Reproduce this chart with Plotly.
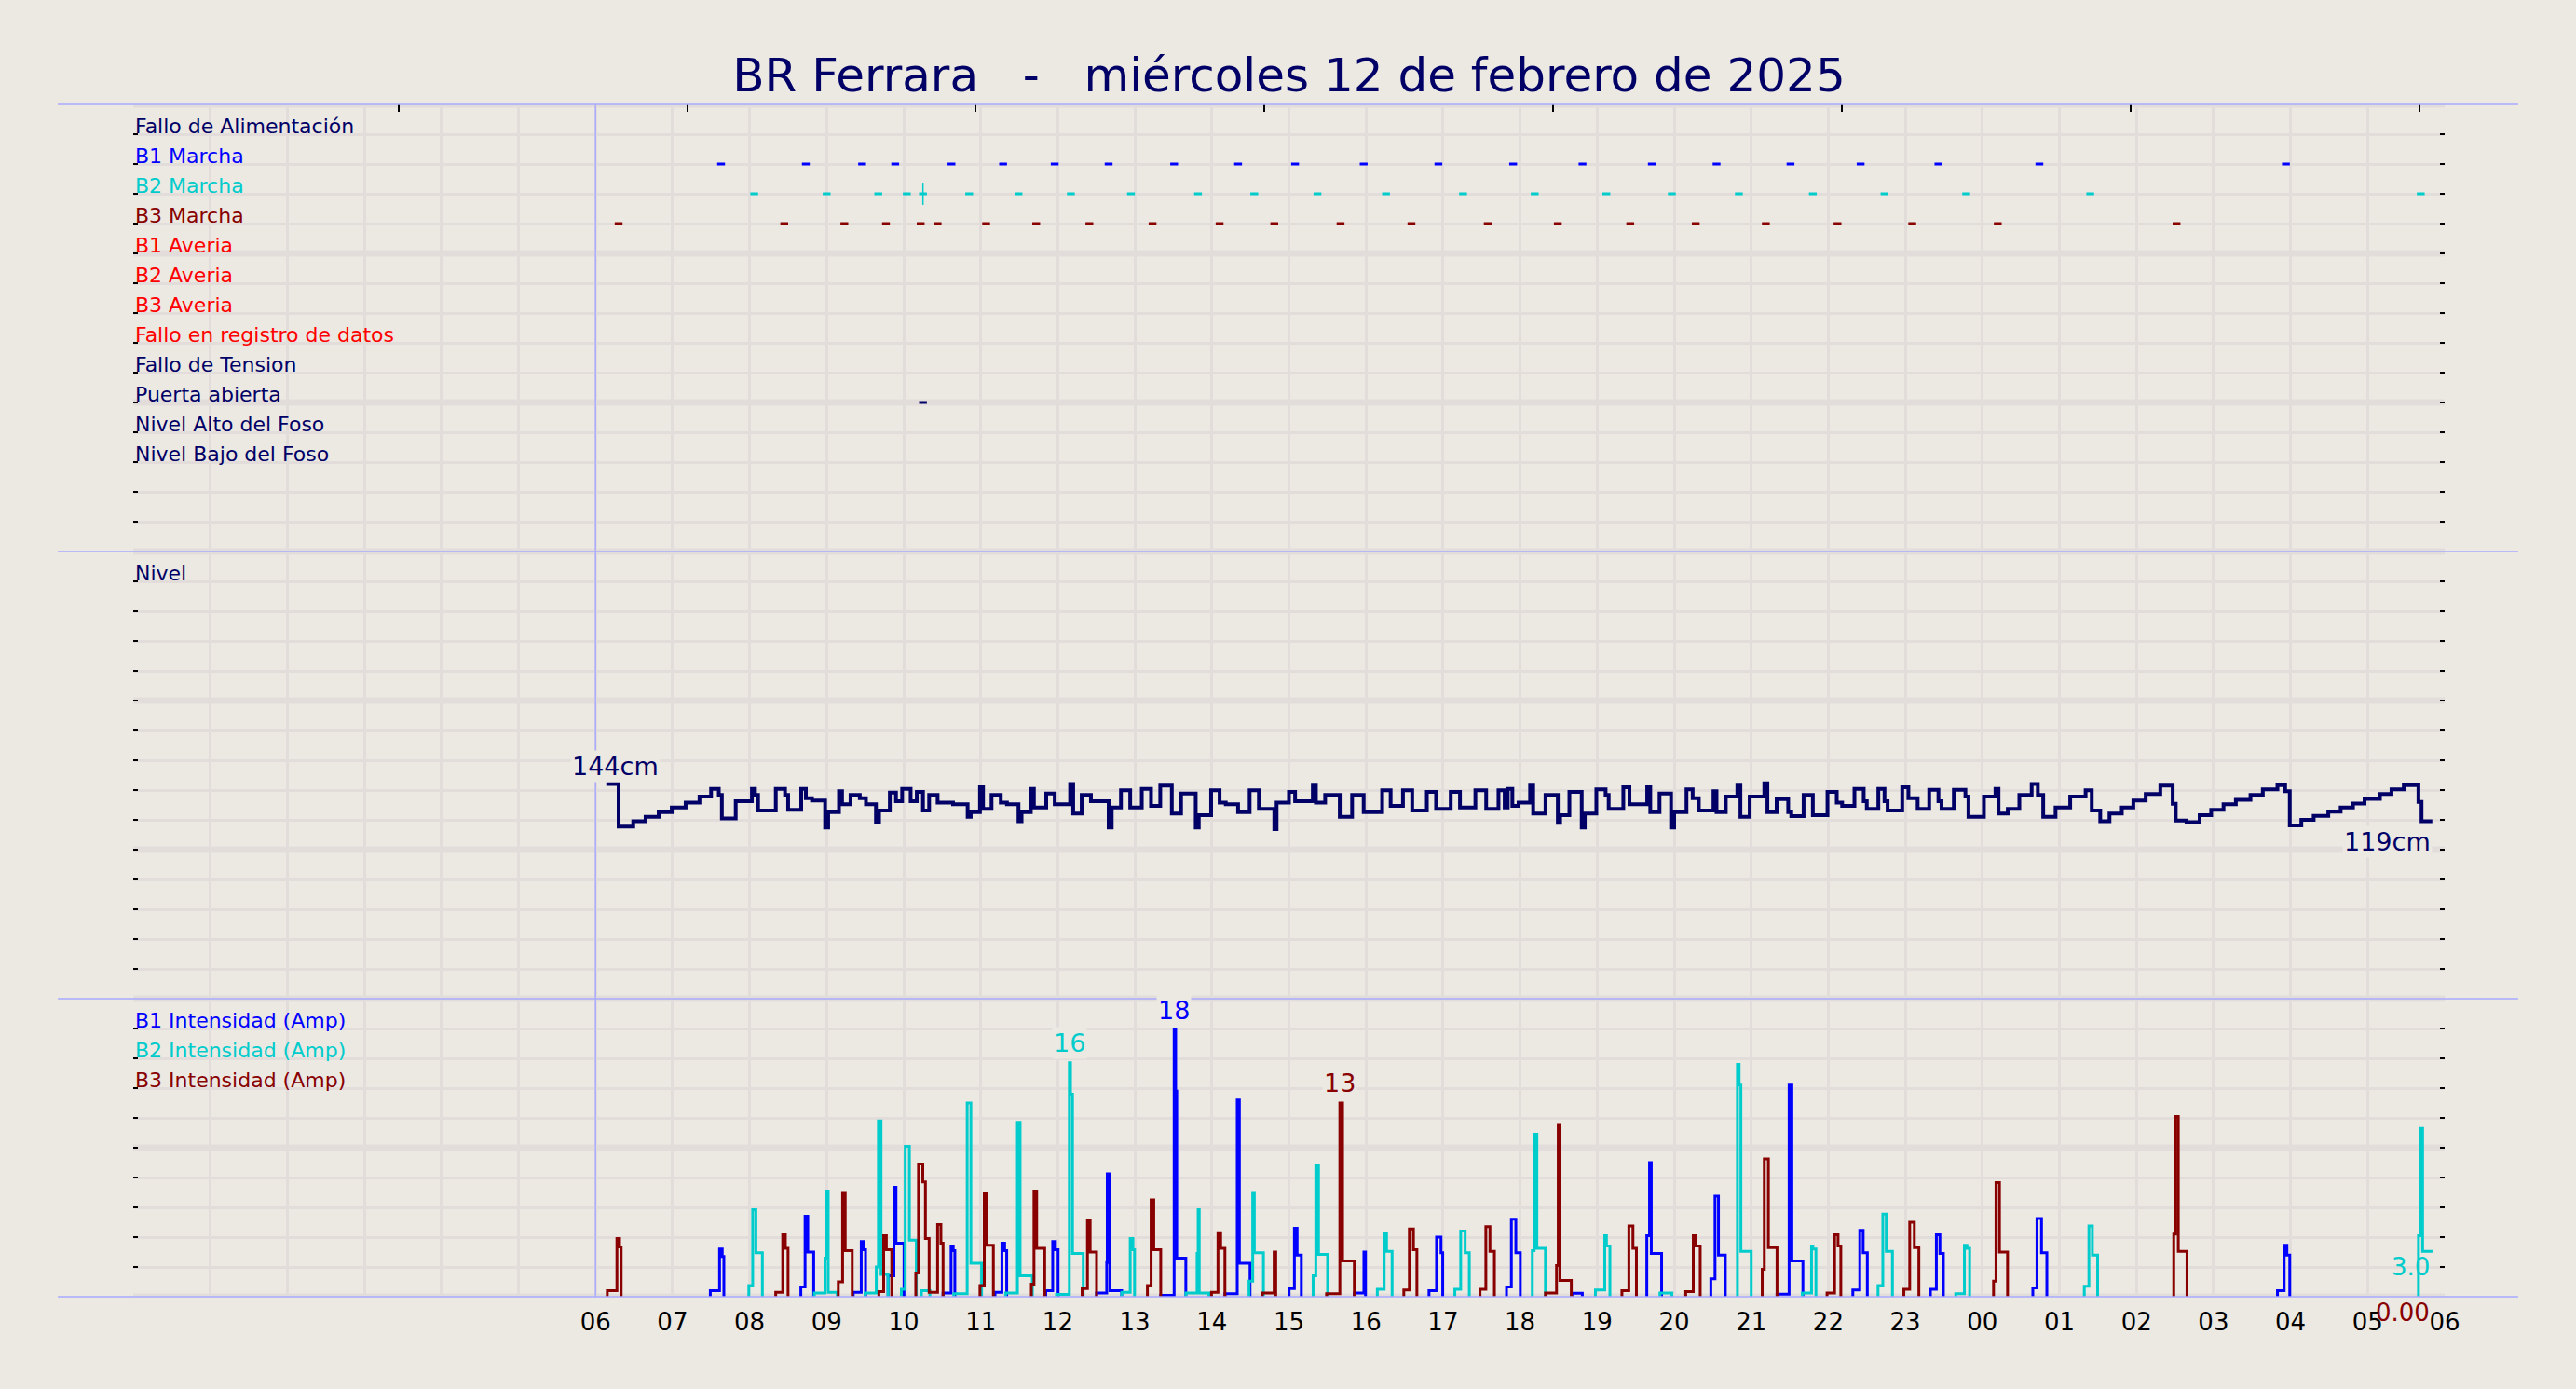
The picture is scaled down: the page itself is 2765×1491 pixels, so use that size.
import pandas as pd
import plotly.graph_objects as go

BASE = pd.Timestamp("2025-02-12 00:00:00")
TITLE = "BR Ferrara\u00a0\u00a0\u00a0-\u00a0\u00a0\u00a0miércoles 12 de febrero de 2025"

NAVY = "#000066"
BLUE = "#0000ff"
CYAN = "#00cccc"
DRED = "#880000"
RED = "#ff0000"
BG = "#ece8e2"
GRID = "#e2dddb"
FRAME = "#aaaaff"
FONT = "DejaVu Sans"

# x axis: hours since 2025-02-12 00:00
HOUR_TICKS = list(range(0, 31))
HOUR_LABELS = [""] * 6 + ["06", "07", "08", "09", "10", "11", "12", "13", "14", "15", "16", "17",
                          "18", "19", "20", "21", "22", "23", "00", "01", "02", "03", "04", "05", "06"]
TOP_TICKS_H = [3.443, 7.190, 10.937, 14.684, 18.431, 22.178, 25.925, 29.672]

# status panel rows
STATUS_LABELS = ["Fallo de Alimentación", "B1 Marcha", "B2 Marcha", "B3 Marcha", "B1 Averia",
                 "B2 Averia", "B3 Averia", "Fallo en registro de datos", "Fallo de Tension",
                 "Puerta abierta", "Nivel Alto del Foso", "Nivel Bajo del Foso"]
STATUS_ROWS = [14, 13, 12, 11, 10, 9, 8, 7, 6, 5, 4, 3]
STATUS_COLORS = [NAVY, BLUE, CYAN, DRED, RED, RED, RED, RED, NAVY, NAVY, NAVY, NAVY]

B1_MARCHA_H = [7.63, 8.73, 9.46, 9.89, 10.62, 11.29, 11.96, 12.66, 13.51, 14.34, 15.08, 15.97,
               16.94, 17.91, 18.81, 19.71, 20.55, 21.51, 22.42, 23.43, 24.74, 27.94]
B2_MARCHA_H = [8.06, 9.00, 9.67, 10.04, 10.25, 10.85, 11.49, 12.17, 12.95, 13.82, 14.55, 15.37,
               16.26, 17.26, 18.19, 19.12, 19.97, 20.84, 21.80, 22.73, 23.79, 25.40, 29.69]
B2_MARCHA_LARGA_H = [10.25]
B3_MARCHA_H = [6.30, 8.45, 9.23, 9.77, 10.22, 10.44, 11.07, 11.72, 12.41, 13.23, 14.10, 14.81,
               15.67, 16.59, 17.58, 18.49, 19.43, 20.28, 21.19, 22.12, 23.09, 24.20, 26.52]
PUERTA_H = [10.25]

# level (hour, cm)
LEVEL_READINGS = [
    (6.14, 144), (6.30, 115.4), (6.49, 119.0), (6.65, 122.1), (6.82, 125.2), (6.99, 128.3),
    (7.17, 131.5), (7.35, 135.6), (7.50, 140.8), (7.60, 136.7), (7.64, 121.0), (7.82, 132.5),
    (8.03, 140.8), (8.07, 136.7), (8.11, 126.3), (8.34, 140.8), (8.46, 136.7), (8.50, 126.7),
    (8.67, 140.8), (8.73, 134.6), (8.81, 133.0), (8.98, 114.8), (9.02, 125.2), (9.16, 139.2),
    (9.20, 130.4), (9.31, 136.7), (9.43, 134.6), (9.51, 130.4), (9.64, 118.3), (9.68, 126.3),
    (9.82, 138.3), (9.90, 132.5), (9.98, 140.8), (10.09, 132.5), (10.17, 138.8), (10.25, 126.3),
    (10.33, 136.7), (10.44, 131.5), (10.64, 130.4), (10.83, 122.1), (10.87, 125.2), (10.99, 141.9),
    (11.03, 127.3), (11.14, 136.7), (11.26, 131.5), (11.34, 130.4), (11.49, 119.0), (11.53, 125.2),
    (11.65, 140.8), (11.69, 128.3), (11.85, 137.7), (11.96, 130.4), (12.16, 144.0), (12.20, 124.2),
    (12.31, 136.7), (12.43, 132.5), (12.66, 114.8), (12.70, 128.3), (12.82, 139.8), (12.94, 128.3),
    (13.09, 140.8), (13.21, 129.4), (13.33, 142.9), (13.48, 124.2), (13.60, 137.7), (13.79, 114.8),
    (13.83, 123.1), (13.99, 139.8), (14.10, 131.5), (14.18, 130.4), (14.34, 125.2), (14.49, 139.8),
    (14.61, 127.3), (14.81, 113.8), (14.84, 131.5), (15.00, 138.8), (15.08, 132.5), (15.31, 142.9),
    (15.35, 131.5), (15.47, 136.7), (15.66, 122.1), (15.82, 136.7), (15.97, 125.2), (16.21, 139.8),
    (16.32, 129.4), (16.48, 139.8), (16.60, 126.3), (16.79, 138.8), (16.91, 127.3), (17.10, 138.8),
    (17.22, 128.3), (17.42, 139.8), (17.56, 127.3), (17.72, 139.8), (17.80, 128.3), (17.84, 140.8),
    (17.90, 129.4), (17.98, 131.5), (18.13, 142.9), (18.17, 124.2),
    (18.33, 136.7), (18.49, 118.0), (18.52, 123.1), (18.64, 138.8), (18.80, 114.8), (18.84, 124.2),
    (18.99, 140.4), (19.11, 136.7), (19.15, 127.3), (19.34, 141.9), (19.42, 130.4), (19.65, 141.9),
    (19.69, 125.2), (19.81, 137.7), (19.96, 114.8), (20.00, 125.2), (20.16, 140.4), (20.24, 134.6),
    (20.32, 126.3), (20.51, 139.2), (20.55, 125.2), (20.67, 135.6), (20.82, 142.9), (20.86, 122.1),
    (20.98, 135.6), (21.17, 144.6), (21.21, 125.2), (21.33, 133.9), (21.48, 125.2), (21.52, 122.5),
    (21.68, 136.7), (21.80, 123.1), (21.99, 138.8), (22.11, 131.5), (22.18, 129.4), (22.34, 140.8),
    (22.46, 132.5), (22.50, 127.3), (22.65, 140.8), (22.73, 132.5), (22.77, 126.3), (22.96, 141.9),
    (23.04, 134.6), (23.16, 127.3), (23.31, 140.2), (23.43, 132.5), (23.47, 127.3), (23.63, 140.2),
    (23.78, 135.6), (23.82, 122.1), (24.02, 135.6), (24.17, 140.8), (24.21, 124.2), (24.33, 127.3),
    (24.48, 136.7), (24.64, 144.0), (24.72, 136.7), (24.79, 122.1), (24.95, 128.3), (25.14, 135.6),
    (25.34, 139.8), (25.42, 126.3), (25.53, 119.0), (25.65, 124.2), (25.81, 128.3), (25.96, 133.0),
    (26.12, 137.3), (26.31, 142.9), (26.47, 130.8), (26.51, 119.6), (26.65, 118.5), (26.82, 123.1),
    (26.97, 126.7), (27.13, 130.4), (27.29, 133.5), (27.48, 136.7), (27.64, 140.4), (27.83, 143.3),
    (27.93, 139.2), (27.99, 116.3), (28.14, 120.0), (28.30, 122.7), (28.49, 125.4), (28.65, 128.3),
    (28.81, 131.0), (28.96, 134.0), (29.16, 137.3), (29.31, 140.4), (29.47, 143.3), (29.66, 132.0),
    (29.70, 119.0), (29.84, 119.0),
]
LEVEL_H = [p[0] for p in LEVEL_READINGS]
LEVEL_CM = [p[1] for p in LEVEL_READINGS]

# pump currents: one list per run (hours, amps)
B1_H = [
    [7.49, 7.49, 7.61, 7.645, 7.666], [8.665, 8.665, 8.72, 8.755, 8.832],
    [9.345, 9.345, 9.449, 9.484, 9.505], [9.797, 9.797, 9.873, 9.90, 10.004],
    [10.511, 10.511, 10.615, 10.643, 10.664], [11.185, 11.185, 11.275, 11.31, 11.337],
    [11.844, 11.844, 11.934, 11.969, 12.004], [12.503, 12.503, 12.635, 12.642, 12.677, 12.829],
    [13.336, 13.336, 13.51, 13.53, 13.544, 13.662], [14.17, 14.17, 14.329, 14.357, 14.495],
    [15.002, 15.002, 15.071, 15.106, 15.161], [15.849, 15.849, 15.973, 15.994],
    [16.818, 16.818, 16.916, 16.974, 16.996], [17.824, 17.824, 17.887, 17.945, 18.003],
    [18.673, 18.673, 18.808], [19.645, 19.645, 19.68, 19.703, 19.837],
    [20.476, 20.476, 20.53, 20.575, 20.664], [21.335, 21.335, 21.492, 21.528, 21.671],
    [22.319, 22.319, 22.409, 22.453, 22.507], [23.326, 23.326, 23.403, 23.449, 23.494],
    [24.655, 24.655, 24.709, 24.768, 24.837], [27.830, 27.830, 27.917, 27.953, 27.99],
    [29.84],
]
B1_A = [
    [0, 0.4, 3.2, 2.7, 0], [0, 0.65, 5.4, 3.0, 0],
    [0, 0.3, 3.7, 3.15, 0], [0, 1.4, 7.35, 3.6, 0],
    [0, 0.25, 3.4, 3.1, 0], [0, 0.3, 3.6, 3.1, 0],
    [0, 0.4, 3.7, 3.15, 0], [0, 0.25, 2.3, 8.25, 0.4, 0],
    [0, 0.1, 17.9, 13.8, 2.6, 0], [0, 0.2, 13.2, 2.25, 0],
    [0, 0.55, 4.6, 2.8, 0], [0, 0.25, 3.0, 0],
    [0, 0.4, 4.0, 2.95, 0], [0, 0.65, 5.2, 2.95, 0],
    [0, 0.23, 0], [0, 4.1, 9.0, 2.9, 0],
    [0, 1.2, 6.75, 2.8, 0], [0, 0.17, 14.2, 2.4, 0],
    [0, 0.45, 4.45, 2.95, 0], [0, 0.5, 4.15, 2.9, 0],
    [0, 0.6, 5.25, 2.95, 0], [0, 0.4, 3.45, 2.8, 0],
    [0],
]
B2_H = [
    [7.99, 7.99, 8.04, 8.082, 8.166], [8.84, 8.84, 8.978, 8.999, 9.02, 9.137],
    [9.498, 9.498, 9.644, 9.672, 9.706, 9.797], [9.97, 9.97, 10.02, 10.074, 10.164],
    [10.23, 10.23, 10.34], [10.65, 10.65, 10.824, 10.872, 11.011],
    [11.323, 11.323, 11.476, 11.511, 11.67], [11.983, 11.983, 12.15, 12.165, 12.191, 12.33],
    [12.83, 12.83, 12.94, 12.975, 12.996], [13.662, 13.662, 13.808, 13.822, 13.836, 13.961],
    [14.482, 14.482, 14.53, 14.551, 14.669], [15.314, 15.314, 15.349, 15.384, 15.502],
    [16.147, 16.147, 16.236, 16.267, 16.339], [17.153, 17.153, 17.229, 17.287, 17.341],
    [18.159, 18.159, 18.182, 18.218, 18.329], [18.978, 18.978, 19.099, 19.121, 19.166],
    [19.815, 19.815, 19.971], [20.821, 20.821, 20.843, 20.866, 21.0],
    [21.662, 21.662, 21.783, 21.80, 21.84], [22.646, 22.646, 22.708, 22.753, 22.833],
    [23.654, 23.654, 23.767, 23.80, 23.835], [25.323, 25.323, 25.383, 25.428, 25.496],
    [29.66, 29.66, 29.682, 29.714, 29.842],
]
B2_A = [
    [0, 0.75, 5.85, 2.95, 0], [0, 0.25, 2.6, 7.1, 0.3, 0],
    [0, 0.25, 2.0, 11.8, 1.5, 0], [0, 0.5, 10.1, 3.8, 0],
    [0, 0.4, 0], [0, 0.2, 13.0, 2.25, 0],
    [0, 0.25, 11.7, 1.4, 0], [0, 0.15, 15.7, 13.6, 2.9, 0],
    [0, 0.3, 3.9, 3.15, 0], [0, 0.25, 2.9, 5.85, 0.25, 0],
    [0, 1.05, 7.0, 2.95, 0], [0, 1.4, 8.8, 2.85, 0],
    [0, 0.5, 4.25, 3.05, 0], [0, 0.5, 4.4, 2.95, 0],
    [0, 3.1, 10.9, 3.25, 0], [0, 0.45, 4.1, 3.4, 0],
    [0, 0.25, 0], [0, 15.6, 14.2, 3.05, 0],
    [0, 0.25, 3.4, 3.2, 0], [0, 0.75, 5.55, 3.05, 0],
    [0, 0.2, 3.45, 3.25, 0], [0, 0.7, 4.75, 2.8, 0],
    [0, 4.1, 11.3, 3.05, 3.05],
]
B3_H = [
    [6.153, 6.153, 6.278, 6.312, 6.333], [8.339, 8.339, 8.43, 8.464, 8.499],
    [9.151, 9.151, 9.207, 9.241, 9.332], [9.678, 9.678, 9.74, 9.775, 9.845],
    [10.157, 10.157, 10.192, 10.248, 10.282, 10.33, 10.44, 10.483, 10.511],
    [10.99, 10.99, 11.046, 11.08, 11.164], [11.657, 11.657, 11.691, 11.726, 11.83],
    [12.316, 12.316, 12.385, 12.42, 12.503], [13.163, 13.163, 13.211, 13.246, 13.336],
    [13.995, 13.995, 14.079, 14.114, 14.169], [14.655, 14.655, 14.808, 14.829],
    [15.488, 15.488, 15.661, 15.696, 15.849], [16.491, 16.491, 16.563, 16.616, 16.661],
    [17.48, 17.48, 17.556, 17.609, 17.667], [18.329, 18.329, 18.473, 18.495, 18.517, 18.665],
    [19.322, 19.322, 19.412, 19.465, 19.51], [20.15, 20.15, 20.248, 20.284, 20.338],
    [21.143, 21.143, 21.17, 21.223, 21.335], [21.984, 21.984, 22.082, 22.127, 22.163],
    [22.981, 22.981, 23.057, 23.117, 23.176], [24.145, 24.145, 24.177, 24.222, 24.327],
    [26.484, 26.484, 26.506, 26.543, 26.656],
    [29.84],
]
B3_A = [
    [0, 0.4, 3.9, 3.35, 0], [0, 0.3, 4.15, 3.25, 0],
    [0, 1.0, 7.0, 3.1, 0], [0, 0.35, 4.1, 3.15, 0],
    [0, 1.6, 8.9, 7.7, 3.9, 0.3, 4.85, 3.6, 0],
    [0, 0.75, 6.9, 3.45, 0], [0, 0.85, 7.1, 3.25, 0],
    [0, 0.55, 5.1, 3.0, 0], [0, 0.75, 6.5, 3.15, 0],
    [0, 0.3, 4.3, 3.25, 0], [0, 0.25, 3.0, 0],
    [0, 0.2, 13.0, 2.4, 0], [0, 0.45, 4.55, 3.15, 0],
    [0, 0.5, 4.7, 3.05, 0], [0, 0.25, 2.1, 11.5, 1.1, 0],
    [0, 0.4, 4.75, 3.25, 0], [0, 0.35, 4.1, 3.4, 0],
    [0, 1.85, 9.25, 3.3, 0], [0, 0.25, 4.15, 3.4, 0],
    [0, 0.5, 5.0, 3.3, 0], [0, 1.05, 7.65, 3.0, 0],
    [0, 4.2, 12.1, 3.05, 0],
    [0],
]
CURRENT_LABELS = ["B1 Intensidad (Amp)", "B2 Intensidad (Amp)", "B3 Intensidad (Amp)"]
CURRENT_LABEL_ROWS = [18, 16, 14]


def T(h):
    return BASE + pd.Timedelta(hours=h)


def runs(hs, vs):
    X, Y = [], []
    for h, v in zip(hs, vs):
        X += [T(x) for x in h] + [None]
        Y += list(v) + [None]
    return X[:-1], Y[:-1]


fig = go.Figure()

# level
fig.add_trace(go.Scatter(x=[T(h) for h in LEVEL_H], y=LEVEL_CM, mode="lines",
                         line=dict(color=NAVY, width=4, shape="hv"),
                         xaxis="x2", yaxis="y2", showlegend=False))

# currents
pumps = [(B1_H, B1_A, BLUE), (B2_H, B2_A, CYAN), (B3_H, B3_A, DRED)]
for hs, vs, col in pumps:
    X, Y = runs(hs, vs)
    fig.add_trace(go.Scatter(x=X, y=Y, mode="lines", connectgaps=False,
                             line=dict(color=col, width=3, shape="hv"),
                             xaxis="x", yaxis="y", showlegend=False))

# status events
events = [(B1_MARCHA_H, 13, BLUE), (B2_MARCHA_H, 12, CYAN),
          (B3_MARCHA_H, 11, DRED), (PUERTA_H, 5, NAVY)]
for hs, row, col in events:
    fig.add_trace(go.Scatter(x=[T(h) for h in hs], y=[row] * len(hs), mode="markers",
                             marker=dict(symbol="line-ew", size=6, line=dict(color=col, width=3)),
                             xaxis="x3", yaxis="y3", showlegend=False))
fig.add_trace(go.Scatter(x=[T(h) for h in B2_MARCHA_LARGA_H], y=[12] * len(B2_MARCHA_LARGA_H),
                         mode="markers",
                         marker=dict(symbol="line-ns", size=17, line=dict(color=CYAN, width=1.5)),
                         xaxis="x3", yaxis="y3", showlegend=False))
# carrier for top tick axis
fig.add_trace(go.Scatter(x=[T(TOP_TICKS_H[0])], y=[None], mode="markers",
                         xaxis="x4", yaxis="y3", showlegend=False, hoverinfo="skip"))

xr = [T(0), T(30)]
grid_x = dict(range=xr, tickvals=[T(h) for h in HOUR_TICKS], showgrid=True, gridcolor=GRID,
              gridwidth=3, zeroline=False, showline=False, ticks="")
ytick = dict(ticks="inside", ticklen=5, tickwidth=2, tickcolor="#000000", mirror="ticks",
             showticklabels=False, showgrid=True, gridcolor=GRID, gridwidth=3,
             zeroline=False, showline=False)

shapes = []
thick = [("y3", 5), ("y3", 10), ("y3", 0), ("y3", 15), ("y2", 100), ("y2", 200), ("y2", 0),
         ("y2", 300), ("y", 10), ("y", 0), ("y", 20)]
for yr, v in thick:
    shapes.append(dict(type="line", xref="x", yref=yr, x0=T(0), x1=T(30), y0=v, y1=v,
                       line=dict(color=GRID, width=7), layer="below"))
for yp in [0, 0.25, 0.625, 1]:
    shapes.append(dict(type="line", xref="paper", yref="paper", x0=-0.0326, x1=1.0318,
                       y0=yp, y1=yp, line=dict(color=FRAME, width=1.5), layer="above"))
shapes.append(dict(type="line", xref="x", yref="paper", x0=T(6), x1=T(6), y0=0, y1=1,
                   line=dict(color=FRAME, width=1.5), layer="above"))

ann = []
for txt, row, col in zip(STATUS_LABELS, STATUS_ROWS, STATUS_COLORS):
    ann.append(dict(text=txt, x=0, xref="paper", xanchor="left", y=row, yref="y3",
                    yanchor="middle", yshift=9, showarrow=False,
                    font=dict(size=22, color=col, family=FONT)))
ann.append(dict(text="Nivel", x=0, xref="paper", xanchor="left", y=280, yref="y2",
                yanchor="middle", yshift=9, showarrow=False, font=dict(size=22, color=NAVY, family=FONT)))
for txt, row, col in zip(CURRENT_LABELS, CURRENT_LABEL_ROWS, [BLUE, CYAN, DRED]):
    ann.append(dict(text=txt, x=0, xref="paper", xanchor="left", y=row, yref="y",
                    yanchor="middle", yshift=9, showarrow=False,
                    font=dict(size=22, color=col, family=FONT)))

# level first/last
ann.append(dict(text=f"{LEVEL_CM[0]:.0f}cm", x=T(LEVEL_H[0]), y=LEVEL_CM[0], xref="x2", yref="y2",
                xanchor="center", yanchor="bottom", xshift=10, yshift=2, showarrow=False,
                bgcolor=BG, font=dict(size=27, color=NAVY, family=FONT)))
ann.append(dict(text=f"{LEVEL_CM[-1]:.0f}cm", x=T(LEVEL_H[-1]), y=LEVEL_CM[-1], xref="x2", yref="y2",
                xanchor="right", yanchor="top", yshift=-4, showarrow=False,
                bgcolor=BG, font=dict(size=27, color=NAVY, family=FONT)))

# peaks
for hs, vs, col in pumps:
    best = None
    for h, v in zip(hs, vs):
        for hh, vv in zip(h, v):
            if best is None or vv > best[1]:
                best = (hh, vv)
    ann.append(dict(text=f"{best[1]:.0f}", x=T(best[0]), y=best[1], xref="x", yref="y",
                    xanchor="center", yanchor="bottom", yshift=4, showarrow=False,
                    bgcolor=BG, font=dict(size=27, color=col, family=FONT)))

# last values
ann.append(dict(text=f"{B2_A[-1][-1]:.1f}", x=T(B2_H[-1][-1]), y=B2_A[-1][-1], xref="x", yref="y",
                xanchor="right", yanchor="top", xshift=-1, showarrow=False,
                font=dict(size=26, color=CYAN, family=FONT)))
ann.append(dict(text=f"{B3_A[-1][-1]:.2f}", x=T(B3_H[-1][-1]), y=B3_A[-1][-1], xref="x", yref="y",
                xanchor="right", yanchor="top", xshift=-1, showarrow=False,
                font=dict(size=26, color=DRED, family=FONT)))

fig.update_layout(
    width=2765, height=1491,
    margin=dict(l=143, r=141, t=112, b=99, pad=0),
    paper_bgcolor=BG, plot_bgcolor=BG,
    font=dict(family=FONT, color="#000000"),
    title=dict(text=TITLE, x=0.5, xanchor="center", xref="paper", y=1 - 80 / 1491,
               yref="container", yanchor="middle", font=dict(size=50, color=NAVY, family=FONT)),
    showlegend=False,
    xaxis=dict(**grid_x, anchor="y", domain=[0, 1], ticktext=HOUR_LABELS, tickmode="array",
               showticklabels=True, ticklabelstandoff=9,
               tickfont=dict(size=26, color="#000000", family=FONT)),
    xaxis2=dict(**grid_x, anchor="y2", domain=[0, 1], matches="x", showticklabels=False),
    xaxis3=dict(**grid_x, anchor="y3", domain=[0, 1], matches="x", showticklabels=False),
    xaxis4=dict(range=xr, overlaying="x3", anchor="y3", side="top",
                tickvals=[T(h) for h in TOP_TICKS_H], ticks="inside", ticklen=8, tickwidth=1.5,
                tickcolor="#000000", showticklabels=False, showgrid=False, zeroline=False,
                showline=False),
    yaxis=dict(**ytick, domain=[0, 0.25], range=[0, 20], dtick=2, tick0=0),
    yaxis2=dict(**ytick, domain=[0.25, 0.625], range=[0, 300], dtick=20, tick0=0),
    yaxis3=dict(**ytick, domain=[0.625, 1], range=[0, 15], dtick=1, tick0=0),
    shapes=shapes,
    annotations=ann,
)

fig.write_html("out.html", config={"displayModeBar": False},
               post_script="document.body.style.margin='0px';document.body.style.overflow='hidden';")
